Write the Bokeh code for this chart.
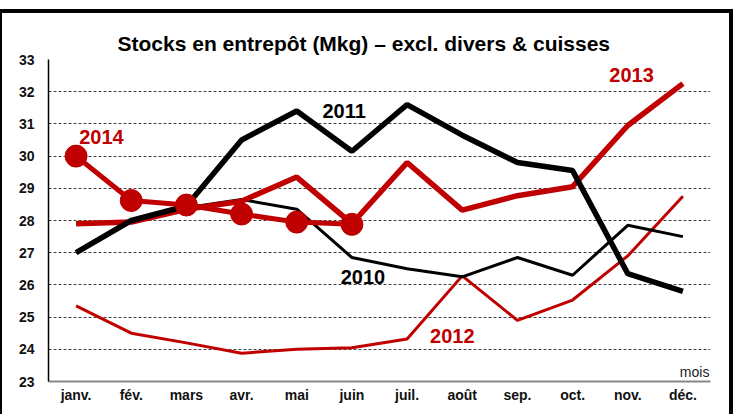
from bokeh.plotting import figure
from bokeh.models import FactorRange, Range1d, Label, InlineStyleSheet
from bokeh.embed import file_html
from bokeh.resources import INLINE

months = ["janv.", "fév.", "mars", "avr.", "mai", "juin", "juil.", "août", "sep.", "oct.", "nov.", "déc."]
s2010 = [27.0, 28.0, 28.4, 28.65, 28.35, 26.85, 26.5, 26.25, 26.85, 26.3, 27.85, 27.5]
s2011 = [27.0, 28.0, 28.45, 30.5, 31.4, 30.15, 31.6, 30.65, 29.8, 29.55, 26.35, 25.8]
s2012 = [25.35, 24.5, 24.2, 23.88, 24.0, 24.05, 24.32, 26.28, 24.9, 25.53, 26.9, 28.75]
s2013 = [27.9, 27.95, 28.35, 28.6, 29.35, 27.9, 29.8, 28.32, 28.77, 29.05, 30.95, 32.25]
m2014 = months[:6]
s2014 = [30.0, 28.62, 28.48, 28.2, 27.95, 27.88]
yticks = list(range(23, 34))

RED = "#C00000"
FONT = "Liberation Sans"

p = figure(width=734, height=414, x_range=FactorRange(*months, range_padding=0, factor_padding=0),
           y_range=Range1d(23, 33), output_backend="svg", toolbar_location=None,
           min_border_left=48, min_border_right=24, min_border_top=59, min_border_bottom=33)
p.outline_line_color = None
p.background_fill_color = "white"
p.border_fill_color = "white"

p.title.text = "Stocks en entrepôt (Mkg) – excl. divers & cuisses"
p.title.align = "left"
p.title.offset = 69
p.title.text_font = FONT
p.title.text_font_size = "21px"
p.title.text_font_style = "bold"
p.title.text_color = "black"
p.title.standoff = 9

p.xgrid.grid_line_color = None
p.ygrid.grid_line_color = "#444444"
p.ygrid.grid_line_dash = "3 2"
p.ygrid.grid_line_width = 1
p.yaxis.ticker = yticks
p.yaxis.minor_tick_line_color = None
p.yaxis.major_tick_out = 0
p.yaxis.major_tick_in = 0
p.yaxis.major_label_standoff = 14
p.yaxis.axis_line_color = "black"
p.yaxis.axis_line_width = 1.5
p.xaxis.major_tick_out = 0
p.xaxis.major_tick_in = 0
p.xaxis.major_label_standoff = 5
p.xaxis.axis_line_color = "#888888"
p.xaxis.axis_line_width = 2
for ax in (p.xaxis[0], p.yaxis[0]):
    ax.major_label_text_font = FONT
    ax.major_label_text_font_style = "bold"
    ax.major_label_text_font_size = "14px"
    ax.major_label_text_color = "#111111"

p.line(months, s2012, line_color=RED, line_width=3)
p.line(months, s2010, line_color="black", line_width=3)
p.line(months, s2013, line_color=RED, line_width=5.5)
p.line(months, s2011, line_color="black", line_width=5.5)
p.line(m2014, s2014, line_color=RED, line_width=5)
p.scatter(m2014, s2014, size=22, fill_color=RED, line_color=RED)

def lab(txt, x, y, color, size="20px", style="bold", align="center"):
    p.add_layout(Label(x=x, y=y, text=txt, text_color=color, text_font=FONT, text_font_size=size,
                       text_font_style=style, text_align=align, text_baseline="middle"))

lab("2014", 0.96, 30.58, RED)
lab("2011", 5.36, 31.39, "black")
lab("2010", 5.70, 26.26, "black")
lab("2012", 7.32, 24.40, RED)
lab("2013", 10.57, 32.53, RED)
lab("mois", 11.98, 23.3, "#222222", size="14px", style="normal", align="right")

frame_css = InlineStyleSheet(css="""
:host::after {
  content: '';
  position: absolute;
  left: 0; top: 9px;
  width: 733px; height: 405px;
  box-sizing: border-box;
  border-top: 4px solid black;
  border-left: 2px solid black;
  border-right: 4px solid black;
  pointer-events: none;
  z-index: 10;
}
""")
p.stylesheets = [frame_css]

open("out.html", "w").write(file_html(p, INLINE))
